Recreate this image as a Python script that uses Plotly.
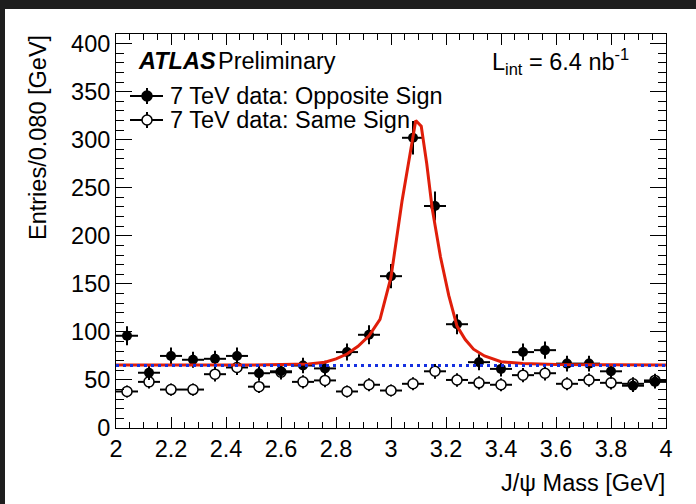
import numpy as np
import plotly.graph_objects as go

# ---------------- data ----------------
bin_centers = [2.04, 2.12, 2.20, 2.28, 2.36, 2.44, 2.52, 2.60, 2.68, 2.76,
               2.84, 2.92, 3.00, 3.08, 3.16, 3.24, 3.32, 3.40, 3.48, 3.56,
               3.64, 3.72, 3.80, 3.88, 3.96]
bin_half_width = 0.04

opposite_sign = [96, 57.5, 75, 71, 72, 75, 57, 59, 65, 62,
                 79, 97, 158, 302, 231, 108, 68.5, 61.5, 79, 81,
                 67, 67, 59, 44, 48]
same_sign = [38, 48, 40, 40, 56, 63, 43, 58, 48, 49.5,
             38, 45, 39, 46, 59, 50, 47, 45, 55, 57,
             46, 50, 47, 46, 49.5]

# fit curve (signal + background)
fit_x = [2.00, 2.50, 2.70, 2.76, 2.80, 2.84, 2.88, 2.92, 2.96, 3.00,
         3.04, 3.07, 3.09, 3.11, 3.13, 3.15, 3.18, 3.21, 3.24, 3.27,
         3.30, 3.34, 3.40, 3.48, 3.60, 4.00]
fit_y = [65.5, 65.6, 66.5, 68.5, 72, 77, 85, 96, 113, 157,
         236, 289, 320, 314, 275, 228, 178, 138, 106, 92,
         82, 75, 69, 67, 66, 65.5]

bkg_x = [2.0, 4.0]
bkg_level = [65, 65]

x_tickvals = [2, 2.2, 2.4, 2.6, 2.8, 3, 3.2, 3.4, 3.6, 3.8, 4]
x_ticktext = ["2", "2.2", "2.4", "2.6", "2.8", "3", "3.2", "3.4", "3.6", "3.8", "4"]
y_tickvals = [0, 50, 100, 150, 200, 250, 300, 350, 400]
y_ticktext = ["0", "50", "100", "150", "200", "250", "300", "350", "400"]

# ---------------- layout geometry ----------------
W, H = 696, 504
L, R, T, B = 116, 30, 34, 76
PW, PH = W - L - R, H - T - B
FONT = "Liberation Sans, Arial, Helvetica, sans-serif"
FS = 23.5
RED = "#e01e0a"
BLUE = "#1530e0"


def px(x):
    return (x - L) / PW


def py(y):
    return (H - B - y) / PH


fig = go.Figure()

err_opp = list(np.sqrt(opposite_sign))
err_same = list(np.sqrt(same_sign))

fig.add_trace(go.Scatter(
    x=bin_centers, y=same_sign, mode="markers",
    marker=dict(symbol="circle", size=10, color="white",
                line=dict(color="black", width=1.5)),
    error_y=dict(type="data", array=err_same, width=0, thickness=2, color="black"),
    error_x=dict(type="constant", value=bin_half_width, width=0, thickness=2, color="black"),
    showlegend=False))

fig.add_trace(go.Scatter(
    x=bin_centers, y=opposite_sign, mode="markers",
    marker=dict(symbol="circle", size=10, color="black"),
    error_y=dict(type="data", array=err_opp, width=0, thickness=2, color="black"),
    error_x=dict(type="constant", value=bin_half_width, width=0, thickness=2, color="black"),
    showlegend=False))

fig.add_trace(go.Scatter(
    x=fit_x, y=fit_y, mode="lines",
    line=dict(color=RED, width=3), showlegend=False))

fig.add_trace(go.Scatter(
    x=bkg_x, y=bkg_level, mode="lines",
    line=dict(color=BLUE, width=3, dash="3px,4px"), showlegend=False))

axis_common = dict(
    showline=True, linecolor="black", linewidth=1, mirror="allticks",
    ticks="inside", tickcolor="black", tickwidth=1, showgrid=False, zeroline=False,
    tickfont=dict(family=FONT, size=FS, color="black"),
)

fig.update_xaxes(range=[2, 4], tickmode="array", tickvals=x_tickvals, ticktext=x_ticktext,
                 ticklen=11,
                 minor=dict(dtick=0.05, ticklen=6, ticks="inside", tickcolor="black", showgrid=False),
                 **axis_common)
fig.update_yaxes(range=[0, 410], tickmode="array", tickvals=y_tickvals, ticktext=y_ticktext,
                 ticklen=16,
                 minor=dict(dtick=10, ticklen=8, ticks="inside", tickcolor="black", showgrid=False),
                 **axis_common)

shapes = []
# dark frame bands of the screenshot
shapes.append(dict(type="rect", xref="paper", yref="paper", x0=px(0), x1=px(W), y0=py(9), y1=py(0),
                   fillcolor="#1e1e1e", line=dict(width=0), layer="above"))
shapes.append(dict(type="rect", xref="paper", yref="paper", x0=px(0), x1=px(5), y0=py(H), y1=py(0),
                   fillcolor="#1e1e1e", line=dict(width=0), layer="above"))

# custom legend glyphs
for yy, filled in [(96, True), (120, False)]:
    shapes.append(dict(type="line", xref="paper", yref="paper", x0=px(130), x1=px(163),
                       y0=py(yy), y1=py(yy), line=dict(color="black", width=2)))
    shapes.append(dict(type="line", xref="paper", yref="paper", x0=px(147), x1=px(147),
                       y0=py(yy - 8), y1=py(yy + 8), line=dict(color="black", width=2)))
    shapes.append(dict(type="circle", xref="paper", yref="paper",
                       xsizemode="pixel", ysizemode="pixel",
                       xanchor=px(147), yanchor=py(yy),
                       x0=-5, x1=5, y0=-5, y1=5,
                       fillcolor="black" if filled else "white",
                       line=dict(color="black", width=1.5)))

annotations = [
    dict(text="<b><i>ATLAS</i></b>", x=px(136), y=py(61), xanchor="left", yanchor="middle",
         font=dict(family=FONT, size=FS, color="black")),
    dict(text="Preliminary", x=px(216), y=py(61), xanchor="left", yanchor="middle",
         font=dict(family=FONT, size=FS, color="black")),
    dict(text="L<sub>int</sub> = 6.4 nb<sup>-1</sup>", x=px(490), y=py(61), xanchor="left",
         yanchor="middle", font=dict(family=FONT, size=FS, color="black")),
    dict(text="7 TeV data: Opposite Sign", x=px(168), y=py(96), xanchor="left", yanchor="middle",
         font=dict(family=FONT, size=FS, color="black")),
    dict(text="7 TeV data: Same Sign", x=px(168), y=py(120), xanchor="left", yanchor="middle",
         font=dict(family=FONT, size=FS, color="black")),
    dict(text="J/ψ Mass [GeV]", x=px(667), y=py(483), xanchor="right", yanchor="middle",
         font=dict(family=FONT, size=FS, color="black")),
    dict(text="Entries/0.080 [GeV]", x=px(38.5), y=py(33), xanchor="center", yanchor="top",
         textangle=-90, font=dict(family=FONT, size=FS, color="black")),
]
for a in annotations:
    a.update(xref="paper", yref="paper", showarrow=False)

fig.update_layout(
    width=W, height=H,
    margin=dict(l=L, r=R, t=T, b=B, pad=0),
    paper_bgcolor="white", plot_bgcolor="white",
    shapes=shapes, annotations=annotations,
    showlegend=False,
)

fig.write_html("out.html",
               config={"displayModeBar": False},
               post_script="document.body.style.margin='0';document.body.style.padding='0';")
